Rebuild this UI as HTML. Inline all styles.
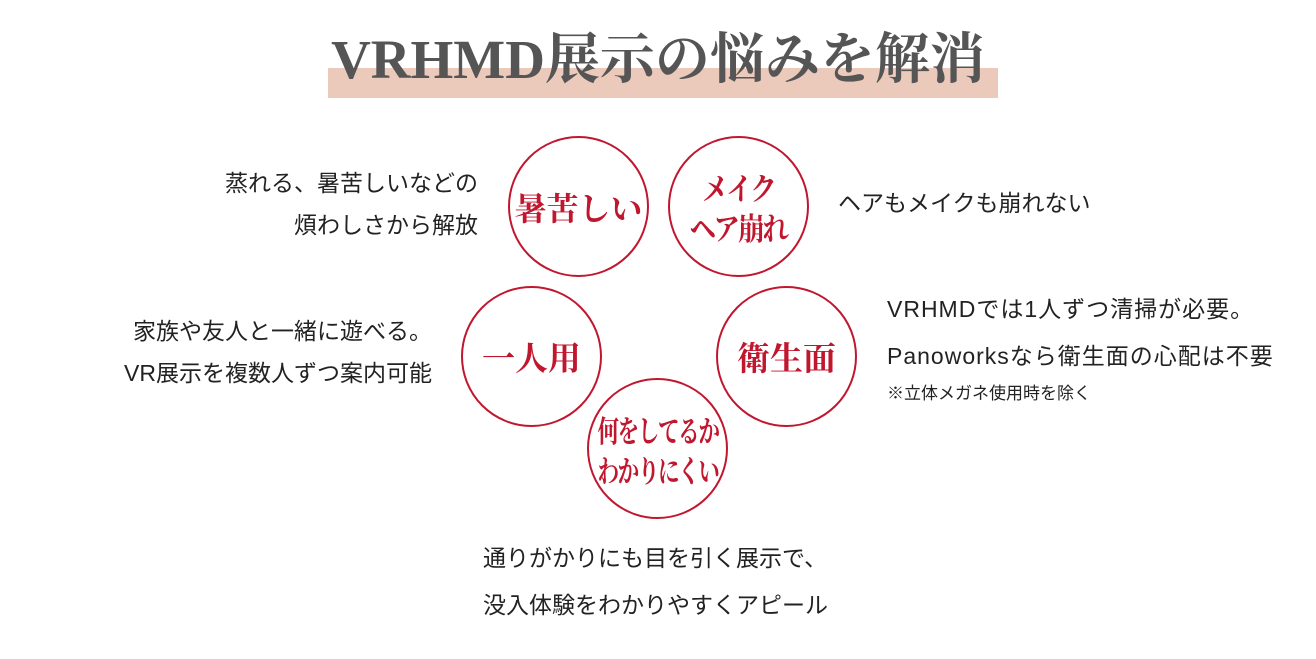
<!DOCTYPE html>
<html><head><meta charset="utf-8"><style>
body{margin:0;width:1316px;height:659px;background:#fff;position:relative;overflow:hidden;font-family:"Liberation Sans","Noto Sans CJK JP",sans-serif;}
.bar{position:absolute;left:328px;top:68px;width:670px;height:30px;background:#ebc9bb;}
.title{position:absolute;left:0;width:1316px;top:30px;text-align:center;font-family:"Liberation Serif","Noto Serif CJK SC",serif;font-weight:bold;font-size:55px;color:#555;line-height:60px;}
.c{position:absolute;border:2px solid #c0172f;border-radius:50%;display:flex;align-items:center;justify-content:center;text-align:center;color:#c0172f;font-family:"Noto Serif CJK SC",serif;font-weight:bold;box-sizing:border-box;width:141px;height:141px;}
.t{position:absolute;font-size:23px;color:#222;line-height:42px;white-space:nowrap;}
</style></head><body>
<div class="bar"></div>
<div class="title">VRHMD展示の悩みを解消</div>
<div class="c" style="left:508px;top:136px;font-size:32px;">暑苦しい</div>
<div class="c" style="left:668px;top:136px;font-size:31px;line-height:40px;"><span style="display:inline-block;transform:scaleX(0.85);letter-spacing:-2px;white-space:nowrap">メイク<br>ヘア崩れ</span></div>
<div class="c" style="left:461px;top:286px;font-size:33px;">一人用</div>
<div class="c" style="left:716px;top:286px;font-size:33px;">衛生面</div>
<div class="c" style="left:587px;top:378px;font-size:30px;line-height:40px;"><span style="display:inline-block;transform:scaleX(0.72);letter-spacing:-2px;white-space:nowrap">何をしてるか<br>わかりにくい</span></div>
<div class="t" style="right:838px;top:162px;text-align:right;">蒸れる、暑苦しいなどの<br>煩わしさから解放</div>
<div class="t" style="left:838px;top:182px;">ヘアもメイクも崩れない</div>
<div class="t" style="right:884px;top:310px;text-align:right;">家族や友人と一緒に遊べる。<br>VR展示を複数人ずつ案内可能</div>
<div class="t" style="left:887px;top:286px;line-height:47px;letter-spacing:1px;">VRHMDでは1人ずつ清掃が必要。<br>Panoworksなら衛生面の心配は不要</div>
<div class="t" style="left:887px;top:382px;font-size:17px;line-height:24px;">※立体メガネ使用時を除く</div>
<div class="t" style="left:483px;top:535px;line-height:47px;">通りがかりにも目を引く展示で、<br>没入体験をわかりやすくアピール</div>
</body></html>
